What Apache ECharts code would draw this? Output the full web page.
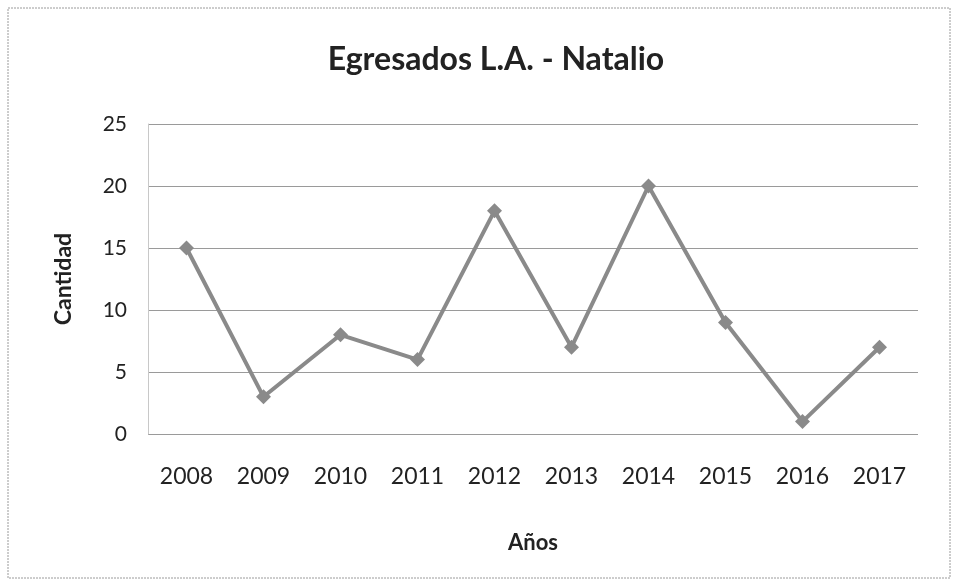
<!DOCTYPE html>
<html>
<head>
<meta charset="utf-8">
<script src="https://cdn.jsdelivr.net/npm/echarts@6/dist/echarts.min.js"></script>
<style>
  html, body { margin: 0; padding: 0; background: #fff; }
  #chart { width: 960px; height: 588px; }
</style>
</head>
<body>
<div id="chart"></div>
<script>
// datos
var years = ['2008', '2009', '2010', '2011', '2012', '2013', '2014', '2015', '2016', '2017'];
var egresados = [15, 3, 8, 6, 18, 7, 20, 9, 1, 7];
var yTicks = [0, 5, 10, 15, 20, 25];

var chart = echarts.init(document.getElementById('chart'));
var font = 'Lato, "Open Sans", sans-serif';

var option = {
  backgroundColor: '#fff',
  animation: false,
  title: {
    text: 'Egresados L.A. - Natalio',
    left: 491,
    top: 39,
    textAlign: 'center',
    textStyle: { fontFamily: font, fontSize: 32, fontWeight: 'bold', color: '#222' }
  },
  graphic: [{
    type: 'rect',
    shape: { x: 8, y: 8, width: 942, height: 570 },
    style: { fill: 'none', stroke: '#9a9a9a', lineWidth: 1, lineDash: [2, 1] },
    silent: true
  }],
  grid: { left: 148, right: 42, top: 124, bottom: 154 },
  xAxis: {
    type: 'category',
    data: years,
    name: 'Años',
    nameLocation: 'middle',
    nameGap: 98,
    nameTextStyle: { fontFamily: font, fontSize: 22, fontWeight: 'bold', color: '#222' },
    axisLine: { show: false },
    axisTick: { show: false },
    axisLabel: { margin: 31, fontFamily: font, fontSize: 23, color: '#222' }
  },
  yAxis: {
    type: 'value',
    min: yTicks[0],
    max: yTicks[yTicks.length - 1],
    interval: 5,
    name: 'Cantidad',
    nameLocation: 'middle',
    nameGap: 84,
    nameTextStyle: { fontFamily: font, fontSize: 23, fontWeight: 'bold', color: '#222', verticalAlign: 'middle' },
    axisLine: { show: true, lineStyle: { color: '#c8c8c8', width: 1 } },
    axisTick: { show: false },
    axisLabel: { margin: 21, fontFamily: font, fontSize: 21, color: '#222' },
    splitLine: { show: true, lineStyle: { color: '#9a9a9a', width: 1 } }
  },
  series: [{
    type: 'line',
    data: egresados,
    symbol: 'diamond',
    symbolSize: 15,
    lineStyle: { color: '#8a8a8a', width: 4 },
    itemStyle: { color: '#8a8a8a' }
  }]
};

chart.setOption(option);
</script>
</body>
</html>
